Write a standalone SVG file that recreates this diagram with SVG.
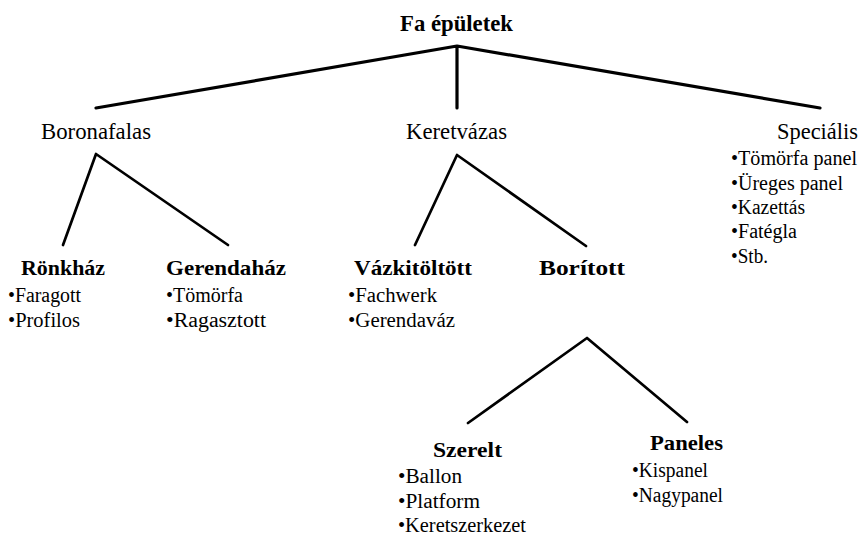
<svg xmlns="http://www.w3.org/2000/svg" width="861" height="535" viewBox="0 0 861 535">
<style>
text{fill:#000}
.t{font-size:23px;font-weight:bold}
.l1{font-size:23px}
.h{font-size:21px;font-weight:bold}
.i{font-size:20px}
.c{fill:none;stroke:#000;stroke-linecap:round;stroke-linejoin:round}
.c1{stroke-width:3.2}
.c2{stroke-width:2.7}
</style>
<rect width="861" height="535" fill="#fff"/>
<g id="connectors">
<path class="c c1" d="M96,108 L457,46 L820,108 M457,46 V108"/>
<path class="c c2" d="M63,245 L96,154 L228,245"/>
<path class="c c2" d="M415,245 L457,155 L586,246"/>
<path class="c c2" d="M468,423 L587,338 L687,422"/>
</g>
<g font-family="'Liberation Serif', 'DejaVu Serif', serif">
<g id="fa-epuletek"><text class="t" x="400" y="31" textLength="113" lengthAdjust="spacingAndGlyphs">Fa épületek</text></g>
<g id="boronafalas"><text class="l1" x="41" y="139" textLength="110" lengthAdjust="spacingAndGlyphs">Boronafalas</text></g>
<g id="keretvazas"><text class="l1" x="406" y="139" textLength="101" lengthAdjust="spacingAndGlyphs">Keretvázas</text></g>
<g id="specialis">
<text class="l1" x="777" y="139" textLength="81" lengthAdjust="spacingAndGlyphs">Speciális</text>
<text class="i" x="731" y="165" textLength="126" lengthAdjust="spacingAndGlyphs">•Tömörfa panel</text>
<text class="i" x="731" y="190" textLength="112" lengthAdjust="spacingAndGlyphs">•Üreges panel</text>
<text class="i" x="731" y="214" textLength="74" lengthAdjust="spacingAndGlyphs">•Kazettás</text>
<text class="i" x="731" y="238" textLength="66" lengthAdjust="spacingAndGlyphs">•Fatégla</text>
<text class="i" x="731" y="263" textLength="37" lengthAdjust="spacingAndGlyphs">•Stb.</text>
</g>
<g id="ronkhaz">
<text class="h" x="21" y="275" textLength="84" lengthAdjust="spacingAndGlyphs">Rönkház</text>
<text class="i" x="8" y="302" textLength="73" lengthAdjust="spacingAndGlyphs">•Faragott</text>
<text class="i" x="8" y="327" textLength="72" lengthAdjust="spacingAndGlyphs">•Profilos</text>
</g>
<g id="gerendahaz">
<text class="h" x="166" y="275" textLength="120" lengthAdjust="spacingAndGlyphs">Gerendaház</text>
<text class="i" x="166" y="302" textLength="77" lengthAdjust="spacingAndGlyphs">•Tömörfa</text>
<text class="i" x="166" y="327" textLength="100" lengthAdjust="spacingAndGlyphs">•Ragasztott</text>
</g>
<g id="vazkitoltott">
<text class="h" x="354" y="275" textLength="118" lengthAdjust="spacingAndGlyphs">Vázkitöltött</text>
<text class="i" x="348" y="302" textLength="89" lengthAdjust="spacingAndGlyphs">•Fachwerk</text>
<text class="i" x="348" y="327" textLength="107" lengthAdjust="spacingAndGlyphs">•Gerendaváz</text>
</g>
<g id="boritott"><text class="h" x="539" y="275" textLength="86" lengthAdjust="spacingAndGlyphs">Borított</text></g>
<g id="szerelt">
<text class="h" x="433" y="457" textLength="69" lengthAdjust="spacingAndGlyphs">Szerelt</text>
<text class="i" x="398" y="483" textLength="64" lengthAdjust="spacingAndGlyphs">•Ballon</text>
<text class="i" x="398" y="508" textLength="82" lengthAdjust="spacingAndGlyphs">•Platform</text>
<text class="i" x="398" y="532" textLength="128" lengthAdjust="spacingAndGlyphs">•Keretszerkezet</text>
</g>
<g id="paneles">
<text class="h" x="650" y="450" textLength="73" lengthAdjust="spacingAndGlyphs">Paneles</text>
<text class="i" x="632" y="477" textLength="76" lengthAdjust="spacingAndGlyphs">•Kispanel</text>
<text class="i" x="632" y="502" textLength="91" lengthAdjust="spacingAndGlyphs">•Nagypanel</text>
</g>
</g>
</svg>
